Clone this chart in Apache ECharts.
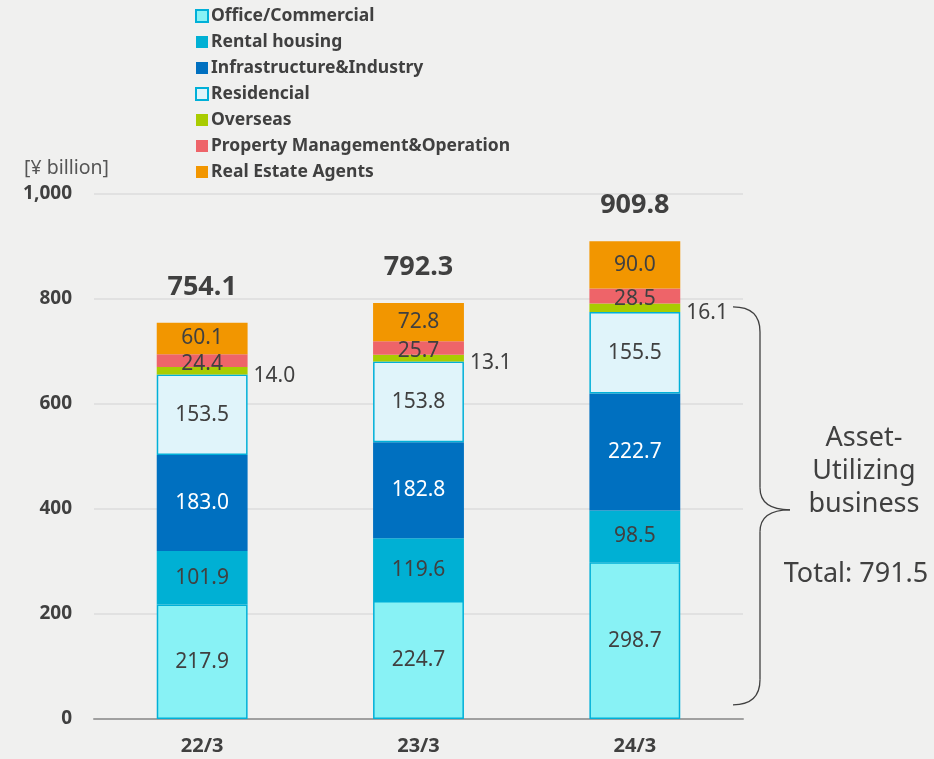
<!DOCTYPE html>
<html><head><meta charset="utf-8">
<script src="https://cdn.jsdelivr.net/npm/echarts@6/dist/echarts.min.js"></script>
<style>html,body{margin:0;padding:0;background:#f0f0ef;}#c{width:934px;height:759px;}</style>
</head><body><div id="c"></div>
<script>
var categories = ['22/3', '23/3', '24/3'];
var officeCommercial = [217.9, 224.7, 298.7];
var rentalHousing = [101.9, 119.6, 98.5];
var infraIndustry = [183.0, 182.8, 222.7];
var residencial = [153.5, 153.8, 155.5];
var overseas = [14.0, 13.1, 16.1];
var propertyMgmt = [24.4, 25.7, 28.5];
var realEstateAgents = [60.1, 72.8, 90.0];
var totals = [754.1, 792.3, 909.8];
var yTicks = [0, 200, 400, 600, 800, 1000];
var assetTotal = 791.5;

var FONT = '"Noto Sans", sans-serif';
var TXT = '#404040';
var chart = echarts.init(document.getElementById('c'));

function inLabel(extra) {
  var l = {show: true, position: 'inside', color: TXT, fontFamily: FONT, fontSize: 21,
    formatter: function (p) { return p.value.toFixed(1); }};
  for (var k in extra) l[k] = extra[k];
  return l;
}

var series = [
  {name: 'Office/Commercial', data: officeCommercial,
   itemStyle: {color: '#88f2f5', borderColor: '#00b0d8', borderWidth: 1.5}, label: inLabel({})},
  {name: 'Rental housing', data: rentalHousing,
   itemStyle: {color: '#00b0d4'}, label: inLabel({})},
  {name: 'Infrastructure&Industry', data: infraIndustry,
   itemStyle: {color: '#0070c0'}, label: inLabel({color: '#ffffff'})},
  {name: 'Residencial', data: residencial,
   itemStyle: {color: '#e0f4fa', borderColor: '#00b0d8', borderWidth: 1.5}, label: inLabel({})},
  {name: 'Overseas', data: overseas,
   itemStyle: {color: '#a9cc00'}, label: inLabel({position: 'right', distance: 6, offset: [0, 5]})},
  {name: 'Property Management&Operation', data: propertyMgmt,
   itemStyle: {color: '#ee6469'}, label: inLabel({offset: [0, 3]})},
  {name: 'Real Estate Agents', data: realEstateAgents,
   itemStyle: {color: '#f29600'}, label: inLabel({})},
  {name: 'total', data: totals.map(function () { return 0; }),
   itemStyle: {color: 'transparent'},
   label: {show: true, position: 'top', distance: 22, color: TXT, fontFamily: FONT,
     fontSize: 27, fontWeight: 'bold',
     formatter: function (p) { return totals[p.dataIndex].toFixed(1); }}}
].map(function (s) {
  s.type = 'bar'; s.stack = 'all'; s.barWidth = '42%'; s.silent = true; return s;
});

chart.setOption({
  backgroundColor: '#f0f0ef',
  animation: false,
  textStyle: {fontFamily: FONT},
  legend: {
    orient: 'vertical', left: 190, top: 2, itemWidth: 12, itemHeight: 12, itemGap: 8,
    icon: 'rect',
    data: series.slice(0, 7).map(function (s) { return s.name; }),
    textStyle: {color: TXT, fontFamily: FONT, fontSize: 17.5, fontWeight: 'bold', padding: [0, 0, 0, -2]}
  },
  grid: {left: 94, right: 191, top: 194, bottom: 40, containLabel: false},
  xAxis: {
    type: 'category', data: categories,
    axisLine: {lineStyle: {color: '#a0a0a0', width: 2}},
    axisTick: {show: false},
    axisLabel: {color: TXT, fontFamily: FONT, fontSize: 20, fontWeight: 'bold', margin: 17}
  },
  yAxis: {
    type: 'value', min: 0, max: 1000, interval: 200,
    axisLine: {show: false}, axisTick: {show: false},
    splitLine: {lineStyle: {color: '#dcdcdc', width: 1.5}},
    axisLabel: {color: TXT, fontFamily: FONT, fontSize: 19, fontWeight: 'bold', margin: 22,
      formatter: function (v) { return yTicks.indexOf(v) >= 0 ? v.toLocaleString('en-US') : ''; }}
  },
  series: series
});

var yTop = chart.convertToPixel({yAxisIndex: 0}, 785);
var yBot = chart.convertToPixel({yAxisIndex: 0}, 27);
var yMid = (yTop + yBot) / 2 + 4;
var x0 = 733, x1 = 760, xt = 790;
var st = {stroke: '#404040', lineWidth: 1.3, fill: null};
chart.setOption({
  graphic: [
    {type: 'text', left: 24, top: 158,
     style: {text: '[¥ billion]', fill: '#555555', fontFamily: FONT, fontSize: 19.5}},
    {type: 'bezierCurve', shape: {x1: x0, y1: yTop, cpx1: x1, cpy1: yTop, x2: x1, y2: yTop + 25}, style: st},
    {type: 'line', shape: {x1: x1, y1: yTop + 25, x2: x1, y2: yMid - 22}, style: st},
    {type: 'bezierCurve', shape: {x1: x1, y1: yMid - 22, cpx1: x1, cpy1: yMid, x2: xt, y2: yMid}, style: st},
    {type: 'bezierCurve', shape: {x1: xt, y1: yMid, cpx1: x1, cpy1: yMid, x2: x1, y2: yMid + 22}, style: st},
    {type: 'line', shape: {x1: x1, y1: yMid + 22, x2: x1, y2: yBot - 25}, style: st},
    {type: 'bezierCurve', shape: {x1: x1, y1: yBot - 25, cpx1: x1, cpy1: yBot, x2: x0, y2: yBot}, style: st},
    {type: 'text', x: 864, y: 471,
     style: {text: 'Asset-\nUtilizing\nbusiness', fill: TXT, fontFamily: FONT, fontSize: 27,
       align: 'center', verticalAlign: 'middle', lineHeight: 33}},
    {type: 'text', x: 856, y: 574,
     style: {text: 'Total: ' + assetTotal.toFixed(1), fill: TXT, fontFamily: FONT, fontSize: 27,
       align: 'center', verticalAlign: 'middle'}}
  ]
});
</script></body></html>
